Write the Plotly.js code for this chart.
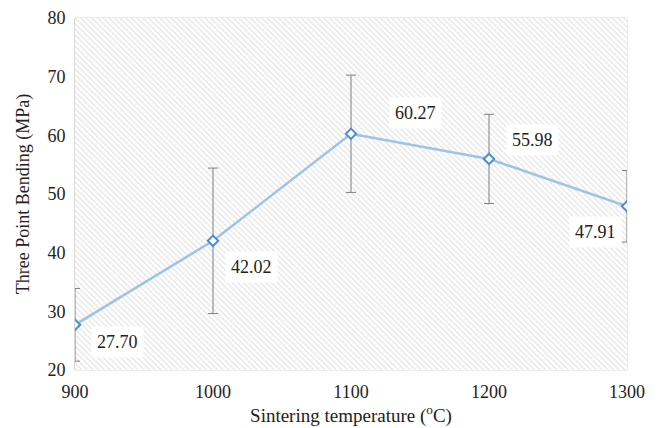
<!DOCTYPE html>
<html><head><meta charset="utf-8">
<script src="https://cdn.plot.ly/plotly-3.0.1.min.js"></script>
<style>body{margin:0;background:#fff}#c{width:661px;height:428px}</style>
</head><body><div id="c"></div>
<script>
const temps = [900, 1000, 1100, 1200, 1300];
const strength = [27.70, 42.02, 60.27, 55.98, 47.91];
const errs = [6.2, 12.4, 10.0, 7.6, 6.1];
const labels = ['27.70', '42.02', '60.27', '55.98', '47.91'];
const xRange = [900, 1300];
const yRange = [20, 80];
const labelShift = [[42, -17], [38, -26], [64, 21], [43, 19], [-32, -26]];
const FONT = 'Liberation Serif';

const bg = {
  x: [xRange[0], xRange[1], xRange[1], xRange[0], xRange[0]],
  y: [yRange[0], yRange[0], yRange[1], yRange[1], yRange[0]],
  mode: 'lines', fill: 'toself', line: {width: 0},
  fillcolor: 'rgba(255,255,255,0)',
  fillpattern: {shape: '\\', fgcolor: '#e4e4e4', bgcolor: '#ffffff', size: 4, solidity: 0.3},
  hoverinfo: 'skip', showlegend: false
};
const main = {
  x: temps, y: strength, mode: 'lines+markers',
  line: {color: '#9dc3e6', width: 2.5},
  marker: {symbol: 'diamond', size: 8, color: '#ffffff', line: {width: 2, color: '#4a8fd6'}},
  error_y: {type: 'data', array: errs, visible: true, color: '#7f7f7f', thickness: 1, width: 5},
  showlegend: false
};
const annotations = temps.map((t, i) => ({
  x: t, y: strength[i], text: labels[i], showarrow: false,
  xshift: labelShift[i][0], yshift: labelShift[i][1],
  bgcolor: '#ffffff', borderpad: 5,
  font: {family: FONT, size: 18, color: '#222'}
}));
const layout = {
  width: 661, height: 428,
  margin: {l: 75, r: 34, t: 18, b: 58},
  paper_bgcolor: '#ffffff', plot_bgcolor: '#ffffff',
  font: {family: FONT, color: '#222'},
  xaxis: {range: xRange, tickvals: [900, 1000, 1100, 1200, 1300], showgrid: true, gridcolor: '#d9d9d9',
    zeroline: false, showline: false, ticks: '', ticklabelstandoff: 9, tickfont: {family: FONT, size: 18},
    title: {text: 'Sintering temperature (<sup>o</sup>C)', font: {family: FONT, size: 19}, standoff: 4}},
  yaxis: {range: yRange, dtick: 10, showgrid: true, gridcolor: '#d9d9d9',
    zeroline: false, showline: true, linecolor: '#d9d9d9', ticks: '', ticklabelstandoff: 5, tickfont: {family: FONT, size: 18},
    title: {text: 'Three Point Bending (MPa)', font: {family: FONT, size: 18}, standoff: 13}},
  annotations: annotations,
  shapes: [{type: 'rect', xref: 'paper', yref: 'paper', x0: 0, x1: 1, y0: 0, y1: 1, line: {color: '#d9d9d9', width: 1}, layer: 'below'}]
};
Plotly.newPlot('c', [bg, main], layout, {displayModeBar: false, staticPlot: true});
</script></body></html>
